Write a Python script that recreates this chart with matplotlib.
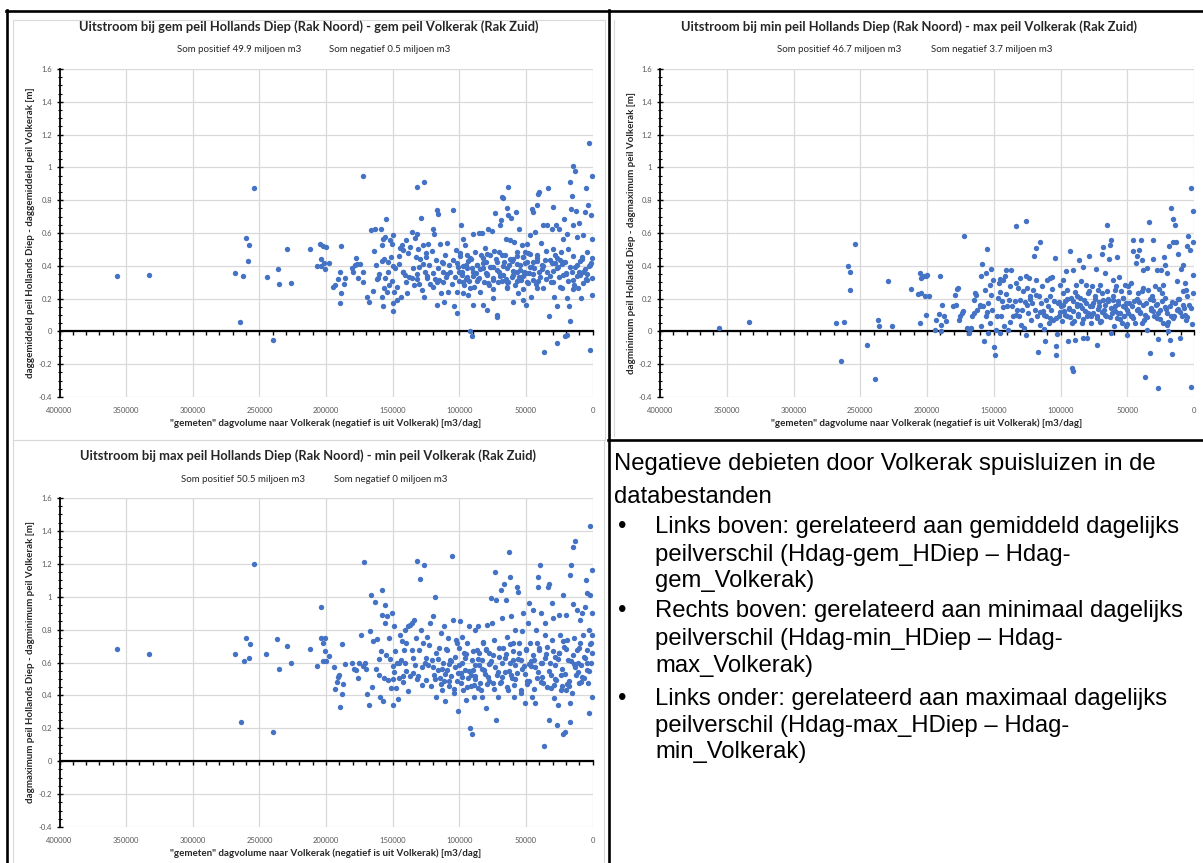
import matplotlib
matplotlib.use('Agg')
import matplotlib.pyplot as plt
from matplotlib.ticker import MultipleLocator, FuncFormatter, NullLocator, FixedLocator
from matplotlib.patches import Rectangle
from matplotlib.lines import Line2D

# ---------------- data ----------------
X_MIN, X_MAX = -400000, 0
Y_MIN, Y_MAX = -0.4, 1.6
X_TICK_STEP = 50000
Y_TICK_STEP = 0.2
x_ticks = list(range(-400000, 1, 50000))

titles = [
    "Uitstroom bij gem peil Hollands Diep (Rak Noord) - gem peil Volkerak (Rak Zuid)",
    "Uitstroom bij min peil Hollands Diep (Rak Noord) - max peil Volkerak (Rak Zuid)",
    "Uitstroom bij max peil Hollands Diep (Rak Noord) - min peil Volkerak (Rak Zuid)",
]
som_pos = ["Som positief 49.9 miljoen m3", "Som positief 46.7 miljoen m3", "Som positief 50.5 miljoen m3"]
som_neg = ["Som negatief 0.5 miljoen m3", "Som negatief 3.7 miljoen m3", "Som negatief 0 miljoen m3"]
ylabels = [
    "daggemiddeld peil Hollands Diep - daggemiddeld peil Volkerak [m]",
    "dagminimum peil Hollands Diep - dagmaximum peil Volkerak [m]",
    "dagmaximum peil Hollands Diep - dagminimum peil Volkerak [m]",
]
xlabel = "\"gemeten\" dagvolume naar Volkerak (negatief is uit Volkerak) [m3/dag]"

# (dagvolume [m3/dag], peilverschil [m])
gem_pts = [
    (-356500, .34), (-333000, .345), (-268000, .355), (-264500, .06), (-262000, .34), (-260000, .57),
    (-258000, .525), (-258500, .43), (-254000, .875), (-244500, .33), (-239500, -.05), (-236000, .38),
    (-235500, .29), (-229000, .50), (-226000, .295), (-212000, .50), (-207000, .40),
    (-204500, .53), (-202000, .52), (-200000, .515), (-203500, .44), (-201500, .42), (-198000, .42),
    (-200500, .38), (-203800, .40),
    (-193250, .283), (-194500, .273), (-190750, .319), (-189500, .364), (-189000, .232), (-189500, .172),
    (-189000, .519), (-185750, .323), (-186500, .287), (-180750, .384), (-179500, .364), (-178250, .404),
    (-177500, .448), (-176500, .414), (-174500, .414), (-175750, .323), (-172500, .364), (-172000, .303),
    (-172000, .949),
    (-169500, .212), (-167500, .182), (-166500, .620), (-164500, .246), (-164000, .491), (-163250, .624),
    (-162500, .404), (-162000, .319), (-160750, .327), (-159000, .622), (-158250, .212), (-158250, .428),
    (-158250, .525), (-157500, .566), (-157000, .152), (-156500, .444), (-156500, .263), (-155750, .576),
    (-155750, .323), (-155000, .683), (-154500, .242), (-153250, .424), (-153250, .364), (-152500, .283),
    (-152000, .556), (-151500, .455), (-150750, .535), (-150750, .307), (-150000, .125), (-149500, .586),
    (-149500, .172), (-149000, .242), (-148250, .388),
    (-147000, .273), (-146500, .192), (-145000, .408), (-144500, .509), (-144000, .212), (-143250, .525),
    (-142500, .364), (-142000, .495), (-140750, .343), (-140000, .556), (-139000, .232), (-138250, .475),
    (-137500, .333), (-137000, .515), (-135750, .606), (-135750, .323), (-134500, .384), (-134000, .283),
    (-133250, .570), (-132500, .455), (-132000, .879), (-132000, .596), (-131500, .347), (-130750, .505),
    (-130000, .287), (-129500, .444), (-128750, .691), (-128250, .253),
    (-127500, .414), (-127000, .525), (-126250, .909), (-126500, .212), (-125750, .364), (-125000, .455),
    (-124500, .323), (-123250, .535), (-122500, .404), (-122000, .287), (-120750, .489), (-120000, .626),
    (-119500, .354), (-119000, .596), (-118250, .319), (-117500, .434), (-117000, .743), (-116500, .162),
    (-115750, .717), (-115750, .384), (-115000, .315), (-114500, .535), (-114000, .232), (-113250, .424),
    (-112500, .364), (-112000, .303), (-111500, .182), (-110750, .465), (-110000, .333), (-109500, .541),
    (-108250, .242), (-107500, .404), (-107000, .364), (-105750, .287), (-105000, .743), (-104500, .434),
    (-104000, .152), (-103250, .333), (-102500, .495), (-102000, .111), (-101500, .242), (-100750, .394),
    (-100000, .307), (-99500, .475), (-99000, .650), (-98250, .364), (-97500, .232), (-97000, .566),
    (-96500, .283), (-95750, .529), (-95000, .404), (-94500, .333), (-94500, .465), (-93250, .222),
    (-92500, .307), (-92000, .004), (-91500, .444), (-90750, -.030), (-90750, .384), (-90000, .596),
    (-89500, .162),
    (-89000, .273), (-88250, .485), (-87500, .354), (-87000, .404), (-85750, .319), (-85000, .602),
    (-84500, .242), (-84000, .465), (-83250, .602), (-82500, .162), (-82000, .384), (-81500, .303),
    (-80750, .509), (-80000, .424), (-79500, .131), (-79000, .343), (-78250, .622), (-77500, .283),
    (-77000, .465), (-76500, .394), (-75750, .614), (-75000, .323), (-74500, .202), (-74000, .489),
    (-73250, .723), (-72500, .444), (-72000, .085), (-72000, .374), (-71500, .101), (-70750, .303),
    (-70000, .485), (-69500, .646),
    (-69000, .677), (-68250, .820), (-67500, .343), (-67000, .812), (-66500, .424), (-65750, .465),
    (-65000, .566), (-64500, .751), (-64500, .303), (-64000, .263), (-63250, .879), (-63250, .711),
    (-62500, .404), (-62000, .556), (-61500, .691), (-60750, .333), (-60000, .182), (-59500, .444),
    (-59000, .545), (-58250, .283), (-57500, .731), (-57000, .364), (-56500, .485), (-55750, .232),
    (-55000, .622), (-54500, .404), (-54000, .313), (-53250, .525), (-52500, .192), (-52000, .455),
    (-51500, .364), (-50750, .485), (-50000, .162), (-49500, .424), (-49500, .535),
    (-49000, .303), (-48250, .475), (-47500, .354), (-47000, .586), (-46500, .212), (-45750, .747),
    (-45000, .731), (-44500, .424), (-44000, .384), (-43250, .606), (-42500, .287), (-42000, .768),
    (-41500, .465), (-40750, .838), (-40000, .848), (-39500, .333), (-39000, .541), (-38250, .404),
    (-37500, .646), (-37000, .263), (-36500, -.127), (-35750, .434), (-35000, .489), (-34500, .650),
    (-34000, .364), (-33250, .873), (-32500, .091), (-32000, .434), (-31500, .299), (-30750, .626),
    (-30000, .758), (-29500, .505),
    (-29000, .212), (-28250, .420), (-27500, .646), (-26500, .152), (-26500, -.071), (-25750, .394),
    (-25000, .622), (-24500, .434), (-24000, .485), (-23250, .263), (-22500, .566), (-22000, .424),
    (-21500, .687), (-20750, -.030), (-20000, .347), (-19500, -.020), (-19500, .202), (-19000, .596),
    (-18250, .501), (-17500, .152), (-17000, .909), (-17000, .065), (-16500, .747), (-15750, .828),
    (-15750, .364), (-15000, .646), (-14500, 1.01), (-14000, .283), (-13250, .980), (-12500, .737),
    (-12000, .404), (-11500, .576), (-10750, .263), (-10000, .663), (-9500, .343),
    (-9000, .202), (-8250, .455), (-7500, .586), (-7000, .364), (-5750, .727), (-5000, .873),
    (-4500, .313), (-4000, .485), (-3250, .768), (-2500, 1.147), (-2000, -.111), (-2000, .404),
    (-1500, .711), (-750, .222), (-750, .566), (-500, .945), (-500, .448), (-200, .327),
    (-97000, .30), (-87000, .31), (-78250, .295), (-68250, .305), (-63250, .30), (-57000, .31),
    (-48250, .295), (-40750, .305), (-29500, .30), (-18250, .31), (-7000, .295),
    (-98250, .345), (-89500, .34), (-79500, .35), (-69500, .335), (-59500, .345), (-52000, .34),
    (-44500, .35), (-32000, .34), (-22000, .345), (-12000, .335), (-4500, .35),
    (-94500, .385), (-84500, .38), (-74500, .39), (-64500, .385), (-54500, .375), (-45750, .39),
    (-38250, .38), (-27000, .385), (-17000, .39), (-5750, .38),
    (-102000, .42), (-93250, .43), (-82000, .42), (-72000, .425), (-60750, .43), (-50750, .42),
    (-42000, .43), (-30750, .42), (-20750, .425), (-9500, .43), (-1500, .42),
    (-99500, .46), (-79500, .47), (-68250, .465), (-57000, .46), (-47000, .47), (-28250, .465),
    (-14500, .46),
    (-92000, .265), (-74500, .26), (-64500, .27), (-52000, .26), (-42000, .265), (-24500, .27),
    (-14500, .26),
    (-142000, .36), (-132000, .32), (-124500, .34), (-117000, .30), (-109500, .35),
    (-95000, .32), (-85000, .325), (-75000, .315), (-65000, .32), (-55000, .33), (-45000, .315),
    (-35000, .32), (-25000, .33), (-15000, .315), (-5000, .32),
    (-100000, .36), (-90000, .365), (-80000, .355), (-70000, .36), (-60000, .37), (-50000, .355),
    (-40000, .36), (-30000, .37), (-20000, .355), (-10000, .36),
    (-97000, .40), (-87000, .405), (-77000, .395), (-67000, .40), (-57000, .41), (-47000, .395),
    (-37000, .40), (-23000, .41), (-13000, .395), (-3000, .40),
    (-92000, .445), (-82000, .45), (-62000, .44), (-52000, .455), (-42000, .445), (-27000, .45),
    (-8000, .44),
    (-160000, .35), (-150000, .40), (-140000, .30), (-130000, .39), (-120000, .27), (-112000, .42),
    (-145000, .46), (-125000, .48),
]

minmax_pts = [
    (-356000, .02), (-333000, .058), (-268000, .05), (-264500, -.18), (-262000, .06), (-259500, .40),
    (-258000, .36), (-257500, .25), (-254000, .53), (-245000, -.08), (-239000, -.29), (-236500, .07),
    (-236000, .03), (-229000, .31), (-226000, .03), (-212000, .26), (-207000, .23), (-205000, .05),
    (-205500, .356), (-204250, .325), (-202500, .339), (-201000, .335), (-200000, .346), (-204250, .234),
    (-201750, .217), (-198500, .213), (-200500, .102),
    (-194250, .010), (-193000, .071), (-191000, .108), (-190000, .335), (-189250, 0.0), (-188500, .163),
    (-189250, .041), (-187500, .096), (-186000, .061), (-180500, .152), (-179250, .224), (-178500, .163),
    (-177500, .258), (-176750, .264), (-176000, .071), (-175000, .096), (-173500, .112), (-173000, .122),
    (-172250, .583),
    (-170000, .020), (-168500, -.010), (-168000, .014), (-166750, .020), (-166000, .091), (-165000, .112),
    (-164250, .234), (-163500, .224), (-162500, .132), (-160500, .157), (-160000, .163), (-159250, .030),
    (-159250, .335), (-158500, .413), (-158000, .152), (-157500, -.061), (-156750, .254), (-156000, .091),
    (-155500, .356), (-155000, .502), (-154250, .173), (-154250, -.010), (-153000, .051), (-152500, .285),
    (-151750, .224), (-151750, .380), (-151000, .132), (-150500, .315), (-150000, -.098), (-149250, -.142),
    (-148500, .010),
    (-147500, .091), (-146750, .203), (-146000, .295), (-145500, -.010), (-145000, .319), (-144250, .091),
    (-143500, .183), (-143000, .315), (-142500, .030), (-141750, .335), (-141000, .230), (-140500, .376),
    (-140000, .157), (-139250, .010), (-138500, .193), (-138000, .274), (-136750, .376), (-136000, .152),
    (-135500, .091), (-134250, .183), (-133500, .295), (-133000, .640), (-132500, .132), (-131750, .264),
    (-131000, .091), (-130500, .325), (-130000, .193), (-129250, .041), (-128500, .132), (-128000, .244),
    (-127500, .020), (-126750, .177), (-126000, .671), (-126000, .335), (-125500, -.020), (-125000, .264),
    (-124250, .112), (-123500, .325), (-123000, .213), (-121750, .071), (-121000, .173), (-120500, .254),
    (-120000, .461), (-119250, .132), (-118500, .315), (-118000, .508), (-117500, .091), (-116750, -.128),
    (-116000, .217), (-115500, .543), (-115000, .041), (-114250, .173), (-113500, .274), (-113000, .122),
    (-112500, .014), (-111750, -.061), (-111000, .193), (-110500, .091), (-110000, .315), (-109250, .152),
    (-108500, .051), (-108000, .325),
    (-107500, .213), (-106750, .132), (-106000, .331), (-105500, .071), (-105000, .183), (-104250, .447),
    (-103500, -.146), (-103000, -.091), (-102500, -.014), (-101750, .173), (-101000, .091), (-100500, .285),
    (-100000, .152), (-99250, .061), (-98500, .234), (-98000, .315), (-97500, .122), (-96750, .183),
    (-96000, .366), (-95500, .091), (-95000, .254), (-94250, -.061), (-93500, .136), (-93000, .492),
    (-92500, .203), (-91750, -.224), (-91000, -.244), (-90500, .376), (-90000, .061), (-89250, -.051),
    (-88500, .285), (-88000, .152),
    (-87500, .217), (-86750, .091), (-86000, .437), (-85500, .163), (-85000, .305), (-84250, .051),
    (-83500, .390), (-83000, -.041), (-82500, .193), (-81750, .122), (-81000, .285), (-80500, -.041),
    (-80000, .091), (-79250, .234), (-78500, .461), (-78000, .152), (-77500, .051), (-76750, .278),
    (-76000, .173), (-75500, .112), (-74250, .213), (-73500, .380), (-73000, .091), (-72500, -.081),
    (-71750, .254), (-71000, .152), (-70500, .285), (-70000, .061), (-69250, .474), (-68500, .193),
    (-68000, .514),
    (-67500, .132), (-66750, .356), (-66000, .091), (-65500, .244), (-65000, .650), (-64250, .183),
    (-63500, .441), (-63000, .524), (-62500, -.010), (-62000, .555), (-61750, .112), (-61000, .315),
    (-60500, .213), (-60000, .030), (-59250, .152), (-58500, .274), (-58000, .081), (-57500, .453),
    (-56750, .183), (-56000, .331), (-55500, .112), (-55000, .244), (-54250, .051), (-53500, .152),
    (-53000, .203), (-52500, .091), (-51750, .285), (-51000, .030), (-50500, .132), (-50000, -.020),
    (-49250, .274), (-48500, .173),
    (-47500, .295), (-46750, .091), (-46000, .488), (-45500, .555), (-45000, .183), (-44250, .051),
    (-43500, .417), (-43000, .132), (-42500, .461), (-41750, .234), (-41000, .494), (-40500, .112),
    (-40000, .555), (-39250, .437), (-38500, .264), (-38000, .376), (-37500, .071), (-36750, -.278),
    (-36000, .173), (-35500, .384), (-35000, .010), (-34250, .254), (-33500, .665), (-33000, -.132),
    (-32500, .132), (-31750, .213), (-31000, .441), (-30500, .555), (-30000, .091), (-29250, .274),
    (-28500, .163), (-28000, .376),
    (-27500, .081), (-26750, -.047), (-26750, -.346), (-26000, .258), (-25500, .132), (-25000, .376),
    (-24250, .183), (-23500, .051), (-23000, .285), (-22500, .453), (-21750, .407), (-21000, .136),
    (-20500, .041), (-20000, .356), (-19250, 0.0), (-18500, .518), (-18000, -.055), (-17500, .752),
    (-16750, -.136), (-16750, .177), (-16000, .543), (-15500, .685), (-15000, .091), (-14250, .650),
    (-13500, .543), (-13000, .305), (-12500, .132), (-11750, .474), (-11000, .197), (-10500, -.041),
    (-10000, .380), (-9250, .091), (-8500, .244), (-8000, .402),
    (-7500, .142), (-6750, .295), (-6000, .071), (-5500, .518), (-5000, .213), (-4250, .583),
    (-3500, .163), (-3000, .498), (-2500, .874), (-2500, -.339), (-1750, .047), (-1000, .732),
    (-500, .543), (-500, .234), (-1000, .346),
    (-103000, .08), (-93000, .085), (-83000, .075), (-73000, .08), (-63000, .085), (-55500, .075),
    (-45500, .08), (-35500, .085), (-25500, .075), (-15500, .08), (-5500, .085),
    (-100500, .12), (-90500, .125), (-79250, .115), (-69250, .12), (-59250, .125), (-49250, .115),
    (-40500, .12), (-30500, .125), (-20500, .115), (-10500, .12),
    (-98000, .16), (-88000, .165), (-76750, .155), (-66750, .16), (-56750, .165), (-46750, .155),
    (-38000, .16), (-28000, .165), (-18000, .155), (-8000, .16),
    (-95500, .20), (-85500, .205), (-74250, .195), (-64250, .20), (-53000, .205), (-43000, .195),
    (-33000, .20), (-21750, .205), (-11750, .195),
    (-91750, .05), (-70500, .055), (-50500, .045), (-39250, .05), (-19250, .055),
    (-143000, .15), (-133000, .10), (-123000, .20), (-115500, .12), (-108000, .08),
    (-97000, .10), (-87000, .105), (-77000, .095), (-67000, .10), (-57000, .11), (-47000, .095),
    (-37000, .10), (-27000, .11), (-17000, .095), (-7000, .10),
    (-94000, .14), (-84000, .145), (-72000, .135), (-62000, .14), (-52000, .15), (-42000, .135),
    (-32000, .14), (-22000, .15), (-12000, .135), (-2000, .14),
    (-101000, .18), (-91000, .185), (-81000, .175), (-71000, .18), (-61000, .19), (-51000, .175),
    (-41000, .18), (-31000, .19), (-14000, .175),
    (-89000, .24), (-79000, .245), (-69000, .235), (-59000, .25), (-49000, .24), (-39000, .245),
    (-24000, .235), (-6000, .25),
    (-165000, .19), (-155000, .12), (-145000, .24), (-138000, .06), (-125000, .16), (-118000, .22),
    (-112000, .10), (-106000, .26),
]

maxmin_pts = [
    (-356500, .68), (-333000, .653), (-268000, .653), (-264000, .24), (-261500, .61), (-260000, .75),
    (-257000, .71), (-258000, .63), (-254000, 1.20), (-245000, .65), (-239500, .18), (-236500, .74),
    (-235500, .56), (-229000, .70), (-226000, .60), (-212000, .68), (-207000, .58), (-204000, .94),
    (-204000, .75), (-202500, .72), (-201000, .75), (-202000, .61), (-200500, .67), (-200000, .61),
    (-198000, .64),
    (-194000, .57), (-193000, .44), (-192100, .48), (-190700, .51), (-190100, .525), (-189200, .33),
    (-188300, .41), (-188300, .71), (-187200, .47), (-185400, .59), (-180500, .60), (-179000, .56),
    (-177500, .555), (-176100, .505), (-175500, .595), (-173700, .77), (-172600, .58), (-171700, 1.21),
    (-170800, .595), (-170200, .56), (-169100, .41), (-167900, .343), (-166700, .79), (-166400, 1.01),
    (-165300, .45), (-164400, .73), (-163200, .97), (-162600, .56), (-162100, .74), (-160300, .525),
    (-159100, .39), (-158600, .667), (-158000, 1.04), (-157700, .89), (-157100, .364), (-156500, .505),
    (-155600, .95), (-155600, .84), (-155100, .645), (-154200, .88), (-153300, .495), (-152700, .75),
    (-152100, .62), (-151300, .444), (-150400, .90), (-149800, .343), (-149200, .54), (-148600, .82),
    (-148000, .667), (-147500, .444), (-146900, .595), (-146300, .378), (-145400, .505), (-144500, .77),
    (-144000, .616), (-143100, .73), (-142500, .48), (-141600, .677), (-141000, .80), (-140500, .595),
    (-139600, .72), (-138700, .424), (-138100, .824), (-137200, .515), (-136700, .828), (-135800, .677),
    (-135200, .84), (-134600, .535), (-133700, .86), (-132900, .586), (-132300, .747), (-131700, 1.22),
    (-130800, .515), (-129900, .677), (-129400, 1.11), (-128800, .80), (-127900, .465), (-127000, .717),
    (-126400, 1.19), (-125900, .595), (-125000, .495), (-124100, .758), (-123500, .586), (-122900, .707),
    (-122100, .84), (-121200, .455), (-120600, .616), (-120000, .88), (-119100, .525), (-118300, 1.0),
    (-117700, .66), (-117100, .39), (-116200, .555), (-115300, .687), (-114800, .505), (-113900, .78),
    (-113300, .434), (-112400, .595), (-111800, .82), (-111300, .485), (-110400, .364), (-109500, .677),
    (-108900, .555), (-108300, .747), (-107500, .455), (-106600, .616), (-106000, .515), (-105400, 1.25),
    (-104500, .86), (-103700, .414), (-103100, .636), (-102500, .737), (-101600, .485), (-100700, .303),
    (-100200, .586), (-99600, .85), (-98700, .535), (-97800, .758), (-97200, .434), (-96700, .657),
    (-95800, .555), (-94900, .37), (-94300, .717), (-93700, .505), (-92900, .82), (-92000, .20),
    (-91400, .455), (-90800, .167), (-90800, .616), (-89900, .555), (-89100, .39), (-88500, .80),
    (-87900, .515), (-87000, .677), (-86100, .444), (-85600, .82), (-85000, .586), (-84100, .475),
    (-83200, .616), (-82600, .39), (-82100, .717), (-81200, .555), (-80300, .677), (-79700, .323),
    (-79100, .828), (-78300, .51), (-77400, .66), (-76800, .595), (-76200, .99), (-75300, .84),
    (-74500, .475), (-73900, .737), (-73300, 1.15), (-72700, .98), (-72100, .253), (-71500, .525),
    (-71000, .39), (-70400, .636), (-69500, .475), (-68600, 1.04), (-68000, .87), (-67500, .687),
    (-66600, 1.08), (-65700, .545), (-65100, .98), (-64500, .758), (-63700, .434), (-62800, 1.27),
    (-62200, .595), (-61600, 1.12), (-61000, .88), (-60400, .505), (-59900, .717), (-59300, .616),
    (-58700, .39), (-57800, .80), (-56900, 1.06), (-56400, .535), (-55800, 1.03), (-54900, .717),
    (-54000, .414), (-53400, .616), (-52900, .79), (-52000, .90), (-51100, .576), (-50500, .353),
    (-49900, .677), (-49100, .485), (-48200, .84), (-47600, .96), (-47000, .717), (-46100, .576),
    (-45300, .39), (-44700, .92), (-44100, .616), (-43200, .353), (-42300, .80), (-41800, .505),
    (-41200, 1.06), (-40600, 1.12), (-40000, .677), (-39400, 1.19), (-38800, .90), (-38300, .595),
    (-37400, .475), (-36500, .09), (-35900, .84), (-35300, .768), (-34500, .697), (-33600, 1.06),
    (-33000, 1.08), (-32400, .253), (-31800, .595), (-31200, .444), (-30700, .737), (-30100, .96),
    (-29500, .87), (-28900, .384), (-28300, .636), (-27700, .495), (-26600, .22), (-26000, .343),
    (-25400, .89), (-24800, .657), (-24200, .77), (-23700, .525), (-23100, .455), (-22500, .167),
    (-21900, 1.01), (-21300, .697), (-20700, .18), (-19900, .434), (-19600, .89), (-19000, .737),
    (-18400, .616), (-17800, .455), (-17200, 1.13), (-16900, .353), (-16600, .24), (-16100, 1.19),
    (-15500, .414), (-14900, 1.30), (-14300, .956), (-13700, .747), (-13100, 1.34), (-12600, .525),
    (-12000, .92), (-11400, .677), (-10800, .595), (-10200, .475), (-9600, .86), (-9100, .717),
    (-8500, .586), (-7900, .90), (-7300, .77), (-6700, .505), (-6100, .636), (-5500, .94),
    (-5000, 1.10), (-4400, .555), (-4400, 1.02), (-3800, .677), (-3200, .475), (-2600, .80),
    (-2300, .293), (-2000, 1.43), (-1800, 1.01), (-1500, .595), (-900, .717), (-600, 1.16),
    (-300, .90), (-300, .39), (-100, .657), (-100, .77),
    (-118000, .50), (-108000, .49), (-98000, .51), (-88000, .50), (-78000, .49), (-68000, .51),
    (-58000, .50), (-48000, .49), (-38000, .51), (-28000, .50), (-18000, .49), (-8000, .51),
    (-113000, .56), (-103000, .57), (-93000, .55), (-83000, .56), (-73000, .57), (-63000, .55),
    (-53000, .56), (-43000, .57), (-33000, .55), (-23000, .56), (-13000, .57), (-3000, .55),
    (-116000, .62), (-106000, .61), (-96000, .63), (-86000, .62), (-76000, .61), (-66000, .63),
    (-56000, .62), (-46000, .61), (-36000, .63), (-26000, .62), (-16000, .61), (-6000, .63),
    (-110000, .68), (-100000, .69), (-90000, .67), (-80000, .68), (-70000, .69), (-60000, .67),
    (-50000, .68), (-40000, .69), (-30000, .67), (-20000, .68), (-10000, .69),
    (-104000, .44), (-94000, .45), (-84000, .43), (-74000, .44), (-64000, .45), (-54000, .43),
    (-44000, .44), (-34000, .45), (-24000, .43),
    (-145000, .60), (-140000, .55), (-135000, .63), (-150000, .50), (-128000, .57),
    (-114000, .47), (-99000, .475), (-89000, .465), (-79000, .47), (-69000, .48), (-59000, .465),
    (-49000, .47), (-39000, .48), (-29000, .465), (-19000, .47), (-9000, .48),
    (-111000, .53), (-101000, .535), (-91000, .525), (-81000, .53), (-71000, .54), (-61000, .525),
    (-51000, .53), (-41000, .54), (-31000, .525), (-21000, .53), (-11000, .54),
    (-108000, .59), (-98000, .595), (-88000, .585), (-78000, .59), (-68000, .60), (-58000, .585),
    (-48000, .59), (-38000, .60), (-28000, .585), (-14000, .59), (-4000, .60),
    (-95000, .65), (-85000, .655), (-75000, .645), (-65000, .65), (-55000, .66), (-45000, .645),
    (-35000, .65), (-25000, .66), (-15000, .645),
    (-102000, .72), (-82000, .725), (-62000, .715), (-42000, .72), (-22000, .73), (-2000, .715),
    (-160000, .62), (-150000, .58), (-142000, .52), (-132000, .50), (-125000, .63), (-120000, .57),
]

panels_data = [gem_pts, minmax_pts, maxmin_pts]

# ---------------- layout (pixels) ----------------
W, H = 1203, 863
fig = plt.figure(figsize=(W / 100, H / 100), dpi=100)
fig.patch.set_facecolor('white')

def fx(px):
    return px / W

def fy(py):
    return 1 - py / H

BLUE = '#4472C4'
GRID = '#d9d9d9'
TICKC = '#595959'
TXT = '#262626'
FONT = 'Lato'

panel_geo = [
    dict(box=(59.5, 69, 592.5, 397), title_y=27, title_cx=309, sub_y=50, ylab_x=31, xlab_y=423, sub_cx=(239, 390)),
    dict(box=(660, 69, 1194, 397), title_y=27, title_cx=909, sub_y=50, ylab_x=632, xlab_y=423, sub_cx=(839, 992)),
    dict(box=(59.5, 498, 592.5, 827), title_y=456, title_cx=308, sub_y=479, ylab_x=31, xlab_y=853, sub_cx=(243, 391)),
]

def yfmt(v, p):
    v = round(v, 2) + 0.0
    return f'{v:g}'

def xfmt(v, p):
    return f'{abs(v):.0f}'

for i, geo in enumerate(panel_geo):
    l, t, r, b = geo['box']
    ax = fig.add_axes([fx(l), fy(b), (r - l) / W, (b - t) / H])
    ax.set_xlim(X_MIN, X_MAX)
    ax.set_ylim(Y_MIN, Y_MAX)
    ax.xaxis.set_major_locator(MultipleLocator(X_TICK_STEP))
    ax.xaxis.set_minor_locator(MultipleLocator(10000))
    ax.yaxis.set_major_locator(MultipleLocator(Y_TICK_STEP))
    ax.yaxis.set_minor_locator(MultipleLocator(0.05))
    ax.yaxis.set_major_formatter(FuncFormatter(yfmt))
    ax.grid(True, which='major', color=GRID, lw=0.9)
    ax.set_axisbelow(True)
    for s in ['top', 'right']:
        ax.spines[s].set_visible(False)
    ax.spines['left'].set_color('black')
    ax.spines['left'].set_linewidth(1.3)
    ax.spines['bottom'].set_position(('data', 0))
    ax.spines['bottom'].set_color('black')
    ax.spines['bottom'].set_linewidth(1.6)
    ax.tick_params(axis='x', which='both', direction='out', length=3, width=1,
                   labelbottom=False, color='black')
    ax.tick_params(axis='y', which='major', direction='inout', length=5, width=1,
                   labelsize=5.5, labelcolor=TICKC, pad=3)
    ax.tick_params(axis='y', which='minor', direction='inout', length=3, width=0.8)
    for lbl in ax.get_yticklabels():
        lbl.set_family(FONT)

    sec = ax.secondary_xaxis(0.0)
    sec.spines['bottom'].set_visible(False)
    sec.xaxis.set_major_locator(FixedLocator(x_ticks))
    sec.xaxis.set_minor_locator(NullLocator())
    sec.xaxis.set_major_formatter(FuncFormatter(xfmt))
    sec.tick_params(length=0, labelsize=5.5, labelcolor=TICKC, pad=7)
    for lbl in sec.get_xticklabels():
        lbl.set_family(FONT)

    pts = panels_data[i]
    xs = [p[0] for p in pts]
    ys = [p[1] for p in pts]
    ax.scatter(xs, ys, s=15, color=BLUE, linewidths=0, zorder=3, clip_on=False)

    cx = (l + r) / 2
    fig.text(fx(geo['title_cx']), fy(geo['title_y']), titles[i], ha='center', va='center',
             fontsize=9.3, fontweight='bold', color=TXT, family=FONT)
    fig.text(fx(geo['sub_cx'][0]), fy(geo['sub_y']), som_pos[i], ha='center', va='center',
             fontsize=7.0, color=TXT, family=FONT)
    fig.text(fx(geo['sub_cx'][1]), fy(geo['sub_y']), som_neg[i], ha='center', va='center',
             fontsize=7.0, color=TXT, family=FONT)
    fig.text(fx(geo['ylab_x']), fy((t + b) / 2), ylabels[i], ha='center', va='center',
             rotation=90, fontsize=7.0, fontweight='bold', color=TXT, family=FONT)
    fig.text(fx(cx), fy(geo['xlab_y']), xlabel, ha='center', va='center',
             fontsize=7.0, fontweight='bold', color=TXT, family=FONT)

# chart frames (light grey)
fig.add_artist(Rectangle((fx(13), fy(440)), fx(605) - fx(13), fy(20) - fy(440),
                         fill=False, ec=GRID, lw=0.8, transform=fig.transFigure))
fig.add_artist(Rectangle((fx(13), fy(875)), fx(604) - fx(13), fy(440) - fy(875),
                         fill=False, ec=GRID, lw=0.8, transform=fig.transFigure))
fig.add_artist(Line2D([fx(614), fx(614)], [fy(20), fy(436)], color=GRID, lw=0.8,
                      transform=fig.transFigure))

# table lines (black)
TL = 1.9
fig.add_artist(Line2D([fx(7), fx(7)], [fy(10), fy(863)], color='black', lw=TL, transform=fig.transFigure))
fig.add_artist(Line2D([fx(6), fx(1203)], [fy(11), fy(11)], color='black', lw=TL, transform=fig.transFigure))
fig.add_artist(Line2D([fx(608.5), fx(608.5)], [fy(10), fy(863)], color='black', lw=TL, transform=fig.transFigure))
fig.add_artist(Line2D([fx(608), fx(1203)], [fy(440), fy(440)], color='black', lw=TL, transform=fig.transFigure))

# text panel
TFONT = 'Liberation Sans'
TS = 17.2
fig.text(fx(614), fy(470), "Negatieve debieten door Volkerak spuisluizen in de",
         fontsize=TS, family=TFONT, va='baseline', ha='left', color='black')
fig.text(fx(614), fy(503), "databestanden", fontsize=TS, family=TFONT, va='baseline', ha='left', color='black')
bullets = [
    ["Links boven: gerelateerd aan gemiddeld dagelijks", "peilverschil (Hdag-gem_HDiep \u2013 Hdag-", "gem_Volkerak)"],
    ["Rechts boven: gerelateerd aan minimaal dagelijks", "peilverschil (Hdag-min_HDiep \u2013 Hdag-", "max_Volkerak)"],
    ["Links onder: gerelateerd aan maximaal dagelijks", "peilverschil (Hdag-max_HDiep \u2013 Hdag-", "min_Volkerak)"],
]
bullet_base = [[533, 561, 587], [617, 645, 672], [705, 732, 758]]
for lines, bases in zip(bullets, bullet_base):
    fig.text(fx(618), fy(bases[0]), "\u2022", fontsize=TS, family=TFONT, va='baseline', ha='left')
    for line, yb in zip(lines, bases):
        fig.text(fx(655), fy(yb), line, fontsize=TS, family=TFONT, va='baseline', ha='left', color='black')

fig.savefig('out.png', dpi=100, facecolor='white')
